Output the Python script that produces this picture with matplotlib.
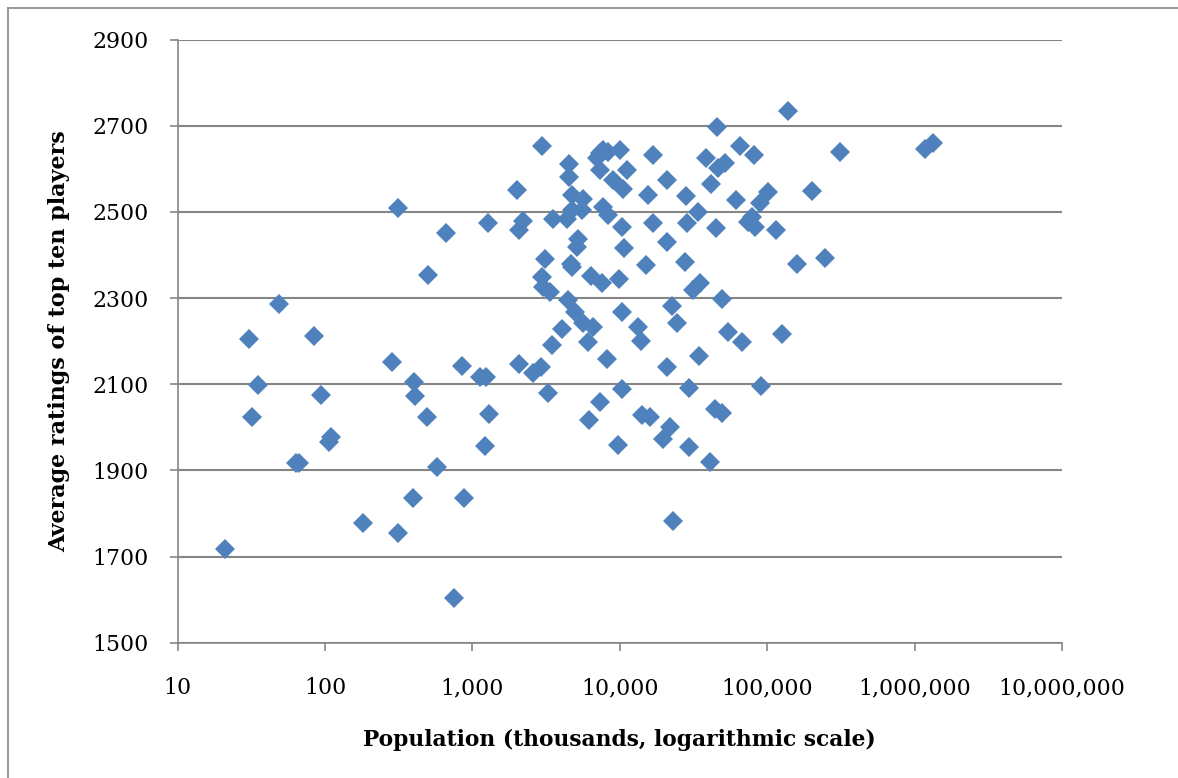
import matplotlib
matplotlib.use("Agg")
import matplotlib.pyplot as plt
from matplotlib.lines import Line2D
from matplotlib.ticker import FuncFormatter

# population in thousands (log scale) and mean rating of top ten players
population = [
    21, 30.5, 49, 35, 32, 84.5, 94, 110, 106, 66.5, 64,
    501, 286, 400, 407, 493, 845, 1125, 1236, 1300, 1216, 574, 394, 879,
    180, 313, 745, 311, 661, 1280, 1995, 2202, 2070, 2956, 3500, 3120,
    2980, 3025, 3360, 4540, 4500, 4710, 5595, 4355, 4710, 5510, 5225,
    5090, 4670, 4755, 7330, 7715, 8340, 10020, 6970, 7330, 16870, 11120,
    9020, 10540, 15600, 20800, 7710, 8340, 10370, 16870, 20800, 10710,
    14960, 6340, 7600, 9910, 4470, 4960, 5650, 6540, 10280, 13340, 13840,
    4030, 3445, 6105, 8130, 2070, 2588, 2900, 3265, 10280, 21000, 7310,
    6165, 9660, 19720, 14060, 16000, 22440, 24270, 49040, 53850, 67000,
    126500, 34580, 29440, 90600, 21880, 44180, 49040, 29570, 40840, 23000,
    138700, 45400, 311000, 65300, 81300, 38370, 46540, 51650, 41500,
    28050, 61100, 101600, 89100, 78300, 82400, 74300, 201800, 114000,
    34060, 28400, 44670, 27670, 158500, 246500, 31470, 34880, 1340000,
    1175000,
]
rating = [
    1717, 2204, 2287, 2098, 2025, 2213, 2075, 1978, 1966, 1918, 1916,
    2353, 2151, 2105, 2072, 2023, 2143, 2117, 2116, 2031, 1957, 1908, 1836,
    1836, 1778, 1755, 1604, 2510, 2452, 2474, 2551, 2479, 2458, 2654, 2483,
    2391, 2349, 2326, 2315, 2612, 2581, 2539, 2531, 2483, 2504, 2504, 2438,
    2419, 2380, 2373, 2636, 2643, 2640, 2643, 2624, 2597, 2632, 2597,
    2574, 2554, 2540, 2574, 2512, 2493, 2465, 2473, 2431, 2417,
    2377, 2352, 2336, 2344, 2295, 2268, 2241, 2233, 2268, 2233, 2201,
    2227, 2191, 2199, 2158, 2148, 2125, 2141, 2079, 2090, 2140, 2059,
    2017, 1960, 1973, 2028, 2025, 2281, 2243, 2297, 2222, 2199,
    2216, 2166, 2092, 2096, 2001, 2042, 2034, 1955, 1919, 1783,
    2735, 2698, 2640, 2653, 2632, 2626, 2601, 2613, 2565,
    2537, 2527, 2545, 2520, 2489, 2465, 2477, 2549, 2459,
    2500, 2473, 2462, 2383, 2379, 2394, 2319, 2334, 2660,
    2645,
]

x_ticks = [10, 100, 1000, 10000, 100000, 1000000, 10000000]
y_ticks = [1500, 1700, 1900, 2100, 2300, 2500, 2700, 2900]

GRAY = '#868686'
BLUE = '#4F81BD'
plt.rcParams['font.family'] = ['DejaVu Serif']

fig = plt.figure(figsize=(11.78, 7.78), dpi=100)
ax = fig.add_axes([0.1508, 0.1739, 0.7507, 0.7753])

ax.set_xscale('log')
ax.set_xlim(10, 10000000)
ax.set_ylim(1500, 2900)
ax.set_xticks(x_ticks)
ax.set_yticks(y_ticks)
ax.xaxis.set_minor_locator(plt.NullLocator())
ax.xaxis.set_major_formatter(FuncFormatter(lambda v, p: f'{v:,.0f}'))

ax.grid(axis='y', color=GRAY, linewidth=1.5)
ax.set_axisbelow(True)

ax.plot(population, rating, linestyle='none', marker='D', markersize=10,
        color=BLUE, markeredgewidth=0, zorder=3, clip_on=False)

for s in ['top', 'right']:
    ax.spines[s].set_visible(False)
for s in ['left', 'bottom']:
    ax.spines[s].set_color(GRAY)
    ax.spines[s].set_linewidth(1.2)
ax.tick_params(axis='both', colors=GRAY, length=6, width=1.2,
               labelcolor='black', labelsize=15.8)
ax.tick_params(axis='x', pad=19)
ax.tick_params(axis='y', pad=15)

ax.set_xlabel('Population (thousands, logarithmic scale)', fontsize=15.7,
              fontweight='bold', labelpad=21)
ax.set_ylabel('Average ratings of top ten players', fontsize=16,
              fontweight='bold', labelpad=16)

# outer chart border (top and left only, the picture is cropped)
fig.add_artist(Line2D([0.007, 0.007], [0, 0.99], transform=fig.transFigure,
                      color=GRAY, linewidth=1.2))
fig.add_artist(Line2D([0.007, 1], [0.99, 0.99], transform=fig.transFigure,
                      color=GRAY, linewidth=1.2))

fig.savefig('out.png', dpi=100)
